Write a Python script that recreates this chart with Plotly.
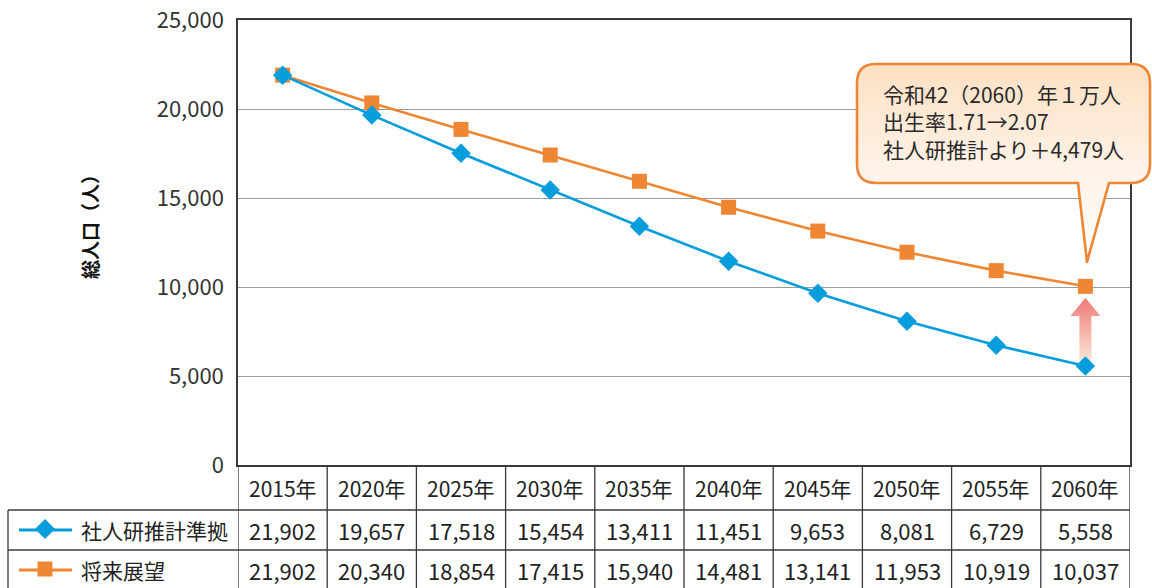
import base64
import plotly.graph_objects as go

# ---- data -------------------------------------------------------------
years = ["2015年", "2020年", "2025年", "2030年", "2035年",
         "2040年", "2045年", "2050年", "2055年", "2060年"]
ipss = [21902, 19657, 17518, 15454, 13411, 11451, 9653, 8081, 6729, 5558]
future = [21902, 20340, 18854, 17415, 15940, 14481, 13141, 11953, 10919, 10037]
series_names = ["社人研推計準拠", "将来展望"]
y_ticks = [0, 5000, 10000, 15000, 20000, 25000]
y_title = "総人口（人）"
callout_lines = ["令和42（2060）年１万人",
                 "出生率1.71→2.07",
                 "社人研推計より＋4,479人"]

# ---- styling ------------------------------------------------------------
BLUE = "#069ddc"
ORANGE = "#ef8633"
TEXT = "#222222"
LINE = "#3a3a3a"
FONT = "Noto Sans CJK JP"

W, H = 1152, 588
L, R, T, B = 238, 22, 20, 123
PW, PH = W - L - R, H - T - B


def px(x):
    """pixel x -> paper x"""
    return (x - L) / PW


def py(y):
    """pixel y (from top) -> paper y"""
    return (H - B - y) / PH


def label(x, y, text, size, xref="paper", xanchor="center", **kw):
    return dict(x=x, y=y, xref=xref, yref="paper", text=text, showarrow=False,
                xanchor=xanchor, yanchor="middle",
                font=dict(size=size, color=kw.pop("color", TEXT), family=FONT),
                **kw)


fig = go.Figure()

fig.add_trace(go.Scatter(
    x=years, y=future, name=series_names[1], mode="lines+markers",
    line=dict(color=ORANGE, width=2.6),
    marker=dict(symbol="square", size=15, color=ORANGE),
    showlegend=False, cliponaxis=False))
fig.add_trace(go.Scatter(
    x=years, y=ipss, name=series_names[0], mode="lines+markers",
    line=dict(color=BLUE, width=2.6),
    marker=dict(symbol="diamond", size=15, color=BLUE),
    showlegend=False, cliponaxis=False))

shapes = []
annotations = []

# ---- data table under the plot ----------------------------------------------
row_header_y, row1_y, row2_y = 488, 530, 570
for yl in (510, 550):
    shapes.append(dict(type="line", xref="paper", yref="paper",
                       x0=px(8), x1=1, y0=py(yl), y1=py(yl),
                       line=dict(color=LINE, width=1.3)))
shapes.append(dict(type="line", xref="paper", yref="paper",
                   x0=px(8), x1=px(8), y0=py(510), y1=py(590),
                   line=dict(color=LINE, width=1.3)))
for k in range(len(years) + 1):
    shapes.append(dict(type="line", xref="x", yref="paper",
                       x0=k - 0.5, x1=k - 0.5, y0=0, y1=py(590),
                       line=dict(color=LINE, width=1.3)))

for i, yr in enumerate(years):
    annotations.append(label(i, py(row_header_y), yr, 21, xref="x"))
    annotations.append(label(i, py(row1_y), f"{ipss[i]:,}", 22, xref="x"))
    annotations.append(label(i, py(row2_y), f"{future[i]:,}", 22, xref="x"))

# legend keys inside the table
for name, color, yc, sym in [(series_names[0], BLUE, row1_y, "diamond"),
                             (series_names[1], ORANGE, row2_y, "square")]:
    shapes.append(dict(type="line", xref="paper", yref="paper",
                       x0=px(19), x1=px(72), y0=py(yc), y1=py(yc),
                       line=dict(color=color, width=3)))
    cx, cy = 45, yc - 1
    if sym == "diamond":
        r = 10
        path = (f"M{px(cx)},{py(cy - r)} L{px(cx + r)},{py(cy)} "
                f"L{px(cx)},{py(cy + r)} L{px(cx - r)},{py(cy)} Z")
    else:
        r = 7.5
        path = (f"M{px(cx - r)},{py(cy - r)} L{px(cx + r)},{py(cy - r)} "
                f"L{px(cx + r)},{py(cy + r)} L{px(cx - r)},{py(cy + r)} Z")
    shapes.append(dict(type="path", xref="paper", yref="paper", path=path,
                       fillcolor=color, line=dict(width=0)))
    annotations.append(label(px(79), py(yc), name, 21, xanchor="left"))

# ---- y axis title ----------------------------------------------------------------
annotations.append(label(px(90), py(222), f"<b>{y_title}</b>", 19,
                         textangle=-90, color="#111111"))

# ---- speech-bubble callout --------------------------------------------------------
bx0, by0, bw, bh = 855, 62, 298, 203
bubble_svg = f"""<svg xmlns='http://www.w3.org/2000/svg' width='{bw}' height='{bh}' viewBox='0 0 {bw} {bh}' preserveAspectRatio='none'>
<defs><linearGradient id='g' x1='0' y1='0' x2='0' y2='1'>
<stop offset='0' stop-color='#fde0c3'/><stop offset='0.55' stop-color='#fff3e8'/><stop offset='1' stop-color='#fffdfb'/>
</linearGradient></defs>
<path d='M20,2 H276 Q295,2 295,21 V102 Q295,121 276,121 H254 L232,200 L223,121 H21 Q2,121 2,102 V21 Q2,2 21,2 Z'
 fill='url(#g)' stroke='{ORANGE}' stroke-width='2.6' stroke-linejoin='round'/>
</svg>"""
images = [dict(source="data:image/svg+xml;base64," +
               base64.b64encode(bubble_svg.encode()).decode(),
               xref="paper", yref="paper", x=px(bx0), y=py(by0),
               sizex=bw / PW, sizey=bh / PH, xanchor="left", yanchor="top",
               sizing="stretch", layer="above")]

annotations.append(label(px(881), py(122), "<br>".join(callout_lines), 21,
                         xanchor="left", align="left", color="#2a2a2a"))

# ---- up arrow between the two 2060 values ------------------------------------------
arrow_svg = """<svg xmlns='http://www.w3.org/2000/svg' width='30' height='56' viewBox='0 0 30 56' preserveAspectRatio='none'>
<defs><linearGradient id='a' x1='0' y1='0' x2='0' y2='1'>
<stop offset='0' stop-color='#ee7a76'/><stop offset='1' stop-color='#fce6d8'/>
</linearGradient></defs>
<path d='M15,0 L30,16 L21,16 L21,56 L9,56 L9,16 L0,16 Z' fill='url(#a)'/>
</svg>"""
last = len(years) - 1
arrow_top = future[last] - 650
arrow_bottom = ipss[last] + 250
images.append(dict(source="data:image/svg+xml;base64," +
                   base64.b64encode(arrow_svg.encode()).decode(),
                   xref="x", yref="y", x=last, y=arrow_top,
                   sizex=0.336, sizey=arrow_top - arrow_bottom,
                   xanchor="center", yanchor="top",
                   sizing="stretch", layer="below"))

fig.update_layout(
    width=W, height=H,
    margin=dict(l=L, r=R, t=T, b=B, pad=0, autoexpand=False),
    paper_bgcolor="white", plot_bgcolor="white",
    font=dict(family=FONT, color=TEXT),
    xaxis=dict(type="category", categoryorder="array", categoryarray=years,
               range=[-0.5, len(years) - 0.5], showticklabels=False,
               showgrid=False, zeroline=False, ticks="", automargin=False,
               showline=True, mirror=True, linecolor=LINE, linewidth=1.5),
    yaxis=dict(range=[0, 25000], tickvals=y_ticks, tickformat=",",
               showgrid=True, gridcolor="#9c9c9c", gridwidth=1.2,
               zeroline=False, ticks="", ticklabelstandoff=8, automargin=False,
               tickfont=dict(size=22, color="#333333", family=FONT),
               showline=True, mirror=True, linecolor=LINE, linewidth=1.5),
    shapes=shapes, annotations=annotations, images=images,
)

fig.write_html("out.html")
